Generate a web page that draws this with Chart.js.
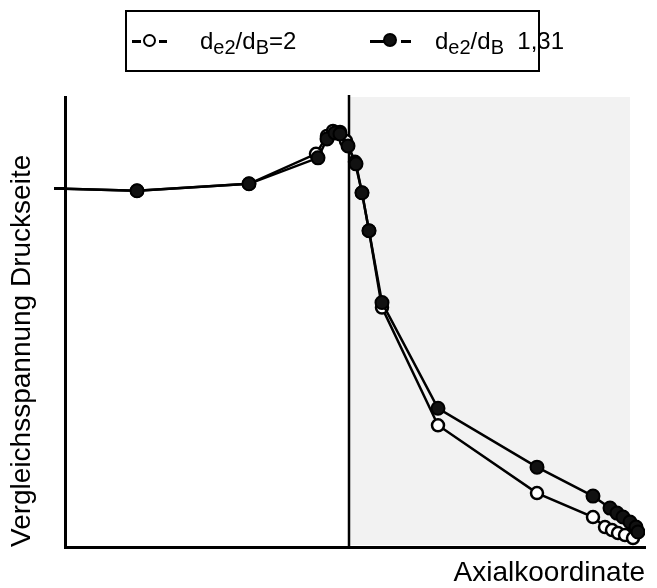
<!DOCTYPE html>
<html>
<head>
<meta charset="utf-8">
<script src="https://cdn.jsdelivr.net/npm/chart.js@4.4.0/dist/chart.umd.min.js"></script>
<style>
  body { margin: 0; background: #fff; }
  #wrap { position: relative; width: 657px; height: 588px; }
  #legend {
    position: absolute; left: 125px; top: 10px; width: 411px; height: 58px;
    border: 2px solid #000; font-family: Arial, "Liberation Sans", sans-serif;
    font-size: 24px; color: #000;
  }
  .item { position: absolute; top: 15px; line-height: 28px; white-space: nowrap; }
  .item sub { font-size: 20px; vertical-align: -5px; line-height: 0; }
  .mark { position: absolute; top: 21px; width: 44px; height: 18px; }
  .mark .ln { position: absolute; top: 7px; height: 3px; background: #000; }
  .mark .dot { position: absolute; top: 1px; border: 2.5px solid #000; border-radius: 50%; }
</style>
</head>
<body>
<div id="wrap">
  <canvas id="chart" width="657" height="588"></canvas>
  <div id="legend">
    <div class="mark" style="left:5px">
      <div class="ln" style="left:0;width:9px"></div>
      <div class="dot" style="left:11px;width:9px;height:9px;background:#fff"></div>
      <div class="ln" style="left:27px;width:8px"></div>
    </div>
    <div class="item" style="left:73px">d<sub>e2</sub>/d<sub>B</sub>=2</div>
    <div class="mark" style="left:243px">
      <div class="ln" style="left:0;width:14px"></div>
      <div class="dot" style="left:13px;top:0;width:10px;height:10px;background:#111"></div>
      <div class="ln" style="left:31px;width:10px"></div>
    </div>
    <div class="item" style="left:308px">d<sub>e2</sub>/d<sub>B</sub>&nbsp; 1,31</div>
  </div>
</div>
<script>
// values (axis has no numbers, units are arbitrary)
const x_open = [0, 72, 184, 251, 262, 268, 275, 281, 290, 297, 304, 317, 373, 472, 528, 540, 547, 553, 560, 568];
const y_open = [359, 357, 364, 394, 412, 417, 416, 407, 386, 355, 317, 240, 122, 54, 30, 20, 17, 14, 12, 9];
const x_filled = [0, 72, 184, 253, 262, 270, 275, 283, 291, 297, 304, 317, 373, 472, 528, 545, 552, 558, 565, 571, 573];
const y_filled = [359, 357, 364, 390, 409, 415, 414, 402, 384, 355, 317, 245, 139, 80, 51, 39, 34, 30, 25, 20, 15];
const y_mark = 359;      // the one tick on the y axis
const zone_from = 284;   // shaded zone on the right
const zone_to = 565;

const to_points = (xs, ys) => xs.map((x, i) => ({ x: x, y: ys[i] }));

// grey zone + vertical divider, under everything else
const zone_plugin = {
  id: "zone",
  beforeDraw(chart) {
    const { ctx, chartArea, scales } = chart;
    const x0 = scales.x.getPixelForValue(zone_from);
    const x1 = scales.x.getPixelForValue(zone_to);
    ctx.save();
    ctx.fillStyle = "#f2f2f2";
    ctx.fillRect(x0, chartArea.top, x1 - x0, chartArea.bottom - chartArea.top - 2);
    ctx.strokeStyle = "#000";
    ctx.lineWidth = 2.5;
    ctx.beginPath();
    ctx.moveTo(x0, chartArea.top - 2);
    ctx.lineTo(x0, chartArea.bottom);
    ctx.stroke();
    ctx.restore();
  },
};

const title_font = { family: "Arial, 'Liberation Sans', sans-serif", size: 28, lineHeight: 1.2 };

const ctx = document.getElementById("chart").getContext("2d");
const chart = new Chart(ctx, {
  type: "line",
  data: {
    datasets: [
      // first dataset is drawn on top
      {
        label: "de2/dB 1,31",
        data: to_points(x_filled, y_filled),
        borderColor: "#000",
        borderWidth: 2.5,
        backgroundColor: "#111",
        pointBackgroundColor: "#111",
        pointBorderColor: "#000",
        pointBorderWidth: 2,
        pointRadius: (c) => (c.dataIndex === 0 ? 0 : 6.5),
        tension: 0,
      },
      {
        label: "de2/dB=2",
        data: to_points(x_open, y_open),
        borderColor: "#000",
        borderWidth: 2.5,
        backgroundColor: "#fff",
        pointBackgroundColor: "#fff",
        pointBorderColor: "#000",
        pointBorderWidth: 2.5,
        pointRadius: (c) => (c.dataIndex === 0 ? 0 : 6),
        tension: 0,
      },
    ],
  },
  options: {
    responsive: false,
    animation: false,
    layout: { padding: { top: 97, right: 12, left: 0, bottom: 0 } },
    plugins: {
      legend: { display: false },
      tooltip: { enabled: false },
    },
    scales: {
      x: {
        type: "linear",
        min: 0,
        max: 580,
        grid: { display: false },
        ticks: { display: false },
        border: { display: true, color: "#000", width: 3 },
        title: {
          display: true,
          text: "Axialkoordinate",
          align: "end",
          color: "#000",
          font: title_font,
          padding: { top: 0, bottom: -2 },
        },
        afterFit: (scale) => { scale.height = 41; },
      },
      y: {
        type: "linear",
        min: 0,
        max: 451,
        afterBuildTicks: (scale) => { scale.ticks = [{ value: y_mark }]; },
        grid: {
          drawOnChartArea: false,
          drawTicks: true,
          tickLength: 11,
          tickWidth: 3,
          tickColor: "#000",
        },
        ticks: { display: false },
        border: { display: true, color: "#000", width: 3 },
        title: {
          display: true,
          text: "Vergleichsspannung Druckseite",
          align: "start",
          color: "#000",
          font: title_font,
          padding: { top: 5, bottom: 0 },
        },
        afterFit: (scale) => { scale.width = 65; },
      },
    },
  },
  plugins: [zone_plugin],
});
</script>
</body>
</html>
